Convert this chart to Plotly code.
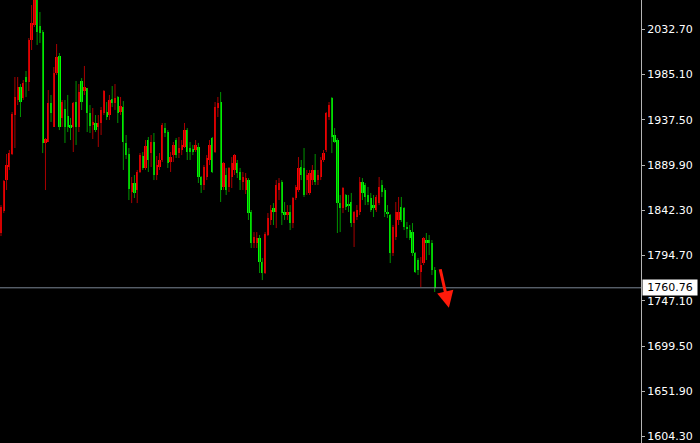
import numpy as np
import plotly.graph_objects as go

# OHLC values (oldest -> newest)
opens = [1818.4,1841.5,1874.1,1887.8,1901.5,1942.5,1958.3,1972.0,1960.4,1982.5,
         1977.2,2021.4,2037.2,2063.5,2036.2,2029.8,1913.1,1914.1,1955.1,1929.9,
         1986.7,2004.6,1939.4,1948.8,1941.5,1932.0,1929.9,1956.2,1929.9,1978.3,
         1967.8,1970.9,1944.6,1932.0,1934.1,1929.9,1934.1,1944.6,1945.7,1942.5,
         1959.4,1955.1,1961.5,1945.7,1950.9,1913.1,1901.5,1861.5,1871.0,1863.6,
         1882.6,1899.4,1886.8,1916.2,1902.5,1914.1,1879.4,1887.8,1895.2,1928.8,
         1924.6,1893.1,1900.4,1916.2,1902.5,1905.7,1908.9,1926.7,1907.8,1906.8,
         1905.7,1908.9,1877.3,1868.9,1877.3,1895.2,1918.3,1903.6,1949.9,1956.2,
         1866.8,1879.4,1866.8,1877.3,1884.7,1892.0,1882.6,1872.0,1863.6,1874.1,
         1840.5,1807.9,1807.9,1813.1,1787.9,1776.3,1816.3,1832.1,1844.7,1840.5,
         1863.6,1872.0,1840.5,1837.3,1840.5,1828.9,1855.2,1863.6,1887.8,1886.8,
         1874.1,1860.5,1874.1,1884.7,1874.1,1877.3,1895.2,1905.7,1940.4,1960.4,
         1921.5,1916.2,1849.9,1844.7,1858.4,1848.9,1851.0,1828.9,1835.2,1840.5,
         1872.0,1868.9,1858.4,1855.2,1847.8,1842.6,1849.9,1868.9,1863.6,1840.5,
         1837.3,1797.3,1814.2,1832.1,1845.7,1844.7,1824.7,1821.5,1819.4,1797.3,
         1790.0,1777.4,1786.8,1811.0,1811.0,1807.9,1779.5]
highs = [1847.8,1874.1,1901.5,1905.7,1945.7,1982.5,1982.5,1975.1,1979.3,1988.8,
         2023.5,2058.2,2068.8,2068.8,2050.9,2031.9,1918.3,1968.8,1963.6,1993.0,
         2017.2,2007.7,1958.3,1958.3,1963.6,1939.4,1956.2,1978.3,1975.1,1981.4,
         1994.1,1970.9,1953.0,1949.9,1942.5,1942.5,1950.9,1968.8,1956.2,1963.6,
         1973.0,1975.1,1962.5,1961.5,1957.2,1921.5,1907.8,1877.3,1879.4,1884.7,
         1902.5,1903.6,1916.2,1919.4,1921.5,1923.6,1899.4,1902.5,1934.1,1934.1,
         1926.7,1903.6,1914.1,1918.3,1919.4,1916.2,1934.1,1928.8,1914.1,1911.0,
         1916.2,1913.1,1878.3,1889.9,1900.4,1916.2,1919.4,1956.2,1961.5,1966.7,
         1893.1,1886.8,1887.8,1898.3,1901.5,1895.2,1886.8,1882.6,1881.5,1876.2,
         1842.6,1819.4,1819.4,1816.3,1792.1,1819.4,1839.4,1847.8,1849.9,1874.1,
         1876.2,1874.1,1851.0,1847.8,1847.8,1856.3,1868.9,1898.3,1895.2,1907.8,
         1884.7,1884.7,1889.9,1901.5,1884.7,1898.3,1905.7,1945.7,1956.2,1961.5,
         1928.8,1918.3,1858.4,1866.8,1859.4,1858.4,1860.5,1841.5,1847.8,1877.3,
         1876.2,1871.0,1866.8,1860.5,1858.4,1858.4,1877.3,1874.1,1865.7,1847.8,
         1838.3,1826.8,1851.0,1856.3,1856.3,1845.7,1830.0,1826.8,1828.9,1798.3,
         1792.1,1793.1,1814.2,1818.4,1816.3,1811.0,1782.6]
lows = [1815.2,1839.4,1863.6,1884.7,1900.4,1907.8,1953.0,1940.4,1958.3,1961.5,
        1967.8,2010.9,2035.1,2016.2,2018.3,1902.5,1863.6,1914.1,1935.2,1929.9,
        1984.6,1926.7,1929.9,1913.1,1924.6,1916.2,1903.6,1911.0,1924.6,1947.8,
        1963.6,1924.6,1923.6,1917.3,1924.6,1908.9,1921.5,1942.5,1937.3,1937.3,
        1950.9,1947.8,1934.1,1942.5,1884.7,1896.2,1853.1,1849.9,1855.2,1849.9,
        1881.5,1884.7,1884.7,1882.6,1887.8,1874.1,1874.1,1884.7,1893.1,1919.4,
        1886.8,1882.6,1893.1,1897.3,1897.3,1900.4,1907.8,1895.2,1895.2,1900.4,
        1903.6,1871.0,1860.5,1863.6,1874.1,1889.9,1881.5,1902.5,1940.4,1851.0,
        1863.6,1858.4,1861.5,1865.7,1879.4,1876.2,1863.6,1863.6,1859.4,1832.1,
        1802.6,1802.6,1802.6,1776.3,1768.9,1775.3,1815.2,1826.8,1826.8,1823.6,
        1853.1,1826.8,1832.1,1832.1,1821.5,1823.6,1853.1,1861.5,1874.1,1856.3,
        1858.4,1858.4,1868.9,1868.9,1868.9,1874.1,1893.1,1903.6,1937.3,1902.5,
        1913.1,1818.4,1819.4,1839.4,1842.6,1840.5,1824.7,1803.7,1832.1,1837.3,
        1853.1,1847.8,1847.8,1840.5,1835.2,1840.5,1847.8,1856.3,1835.2,1834.2,
        1786.8,1794.2,1811.0,1826.8,1830.0,1821.5,1813.1,1811.0,1794.2,1776.3,
        1774.2,1761.6,1784.7,1790.0,1795.2,1774.2,1756.3]
closes = [1845.7,1873.1,1889.9,1902.5,1943.6,1961.5,1972.0,1956.2,1976.2,1977.2,
          2021.4,2039.3,2065.6,2029.8,2028.8,1913.1,1917.3,1955.1,1944.6,1986.7,
          2003.5,1929.9,1956.2,1929.9,1929.9,1928.8,1955.1,1929.9,1966.7,1956.2,
          1972.0,1944.6,1930.9,1935.2,1926.7,1934.1,1947.8,1967.8,1940.4,1958.3,
          1955.1,1960.4,1944.6,1952.0,1914.1,1900.4,1864.7,1871.0,1860.5,1882.6,
          1900.4,1886.8,1909.9,1895.2,1914.1,1879.4,1889.9,1895.2,1932.0,1923.6,
          1892.0,1898.3,1911.0,1900.4,1907.8,1911.0,1926.7,1903.6,1903.6,1903.6,
          1911.0,1877.3,1868.9,1887.8,1897.3,1911.0,1882.6,1950.9,1955.1,1863.6,
          1892.0,1863.6,1886.8,1892.0,1900.4,1881.5,1874.1,1877.3,1876.2,1839.4,
          1807.9,1814.2,1813.1,1787.9,1776.3,1817.3,1834.2,1842.6,1840.5,1868.9,
          1871.0,1839.4,1837.3,1840.5,1828.9,1855.2,1866.8,1886.8,1879.4,1858.4,
          1879.4,1881.5,1884.7,1872.0,1879.4,1895.2,1902.5,1944.6,1953.0,1919.4,
          1914.1,1849.9,1844.7,1865.7,1845.7,1847.8,1828.9,1840.5,1842.6,1872.0,
          1860.5,1856.3,1851.0,1842.6,1844.7,1856.3,1866.8,1861.5,1840.5,1839.4,
          1797.3,1824.7,1840.5,1840.5,1832.1,1824.7,1823.6,1813.1,1797.3,1777.4,
          1779.5,1784.7,1813.1,1807.9,1807.9,1779.5,1760.76]

y_ticks = [2032.70, 1985.10, 1937.50, 1889.90, 1842.30, 1794.70, 1747.10, 1699.50, 1651.90, 1604.30]
y_tick_labels = ["2032.70", "1985.10", "1937.50", "1889.90", "1842.30",
                 "1794.70", "1747.10", "1699.50", "1651.90", "1604.30"]
last_price = 1760.76

O = np.array(opens); H = np.array(highs); L = np.array(lows); C = np.array(closes)
n = len(O)
idx = np.arange(n)
up = C >= O

UP_BODY, DN_BODY = "#ff0000", "#00ff00"
UP_WICK, DN_WICK = "#a80000", "#009400"

fig = go.Figure()

def wick_xy(mask):
    xs, ys = [], []
    for i in idx[mask]:
        xs += [i, i, None]
        ys += [L[i], H[i], None]
    return xs, ys

for mask, col in ((up, UP_WICK), (~up, DN_WICK)):
    xs, ys = wick_xy(mask)
    fig.add_trace(go.Scatter(x=xs, y=ys, mode="lines",
                             line=dict(color=col, width=1), hoverinfo="skip"))

base = np.minimum(O, C)
height = np.maximum(np.abs(C - O), 0.8)
fig.add_trace(go.Bar(x=idx, y=height, base=base, width=0.82,
                     marker=dict(color=[UP_BODY if u else DN_BODY for u in up], line=dict(width=0))))

# current price line
fig.add_shape(type="line", xref="paper", x0=0, x1=1, yref="y", y0=last_price, y1=last_price,
              line=dict(color="#7b8794", width=1))
fig.add_annotation(xref="paper", x=1.0, xanchor="left", xshift=1, yref="y", y=last_price,
                   text=f"{last_price:.2f}", showarrow=False, bgcolor="#ffffff",
                   font=dict(family="DejaVu Sans", size=11, color="#000000"),
                   borderpad=1, width=52, align="center")

# red arrow pointing down
fig.add_annotation(x=idx[-1] + 5.1, y=last_price - 21, xref="x", yref="y",
                   ax=-9, ay=-40, axref="pixel", ayref="pixel", text="",
                   showarrow=True, arrowhead=2, arrowsize=1.1, arrowwidth=3,
                   arrowcolor="#ff1a0a")

fig.update_layout(
    width=700, height=443,
    margin=dict(l=0, r=59, t=0, b=0),
    paper_bgcolor="#000000", plot_bgcolor="#000000",
    showlegend=False, bargap=0,
    xaxis=dict(range=[-0.36, 230.2], visible=False, fixedrange=True),
    yaxis=dict(range=[1597.5, 2063.5], side="right", showgrid=False, zeroline=False,
               showline=True, linecolor="#b4b4b4", linewidth=1,
               ticks="outside", ticklen=3, tickcolor="#b4b4b4",
               tickvals=y_ticks, ticktext=y_tick_labels, ticklabeloverflow="allow",
               tickfont=dict(family="DejaVu Sans", size=11, color="#ffffff")),
)

fig.write_html("out.html", config={"displayModeBar": False})

# remove the browser's default page margin so the chart fills the window
with open("out.html", "r", encoding="utf-8") as fh:
    page = fh.read()
page = page.replace("<body>", '<body style="margin:0;background:#000000;">', 1)
with open("out.html", "w", encoding="utf-8") as fh:
    fh.write(page)
